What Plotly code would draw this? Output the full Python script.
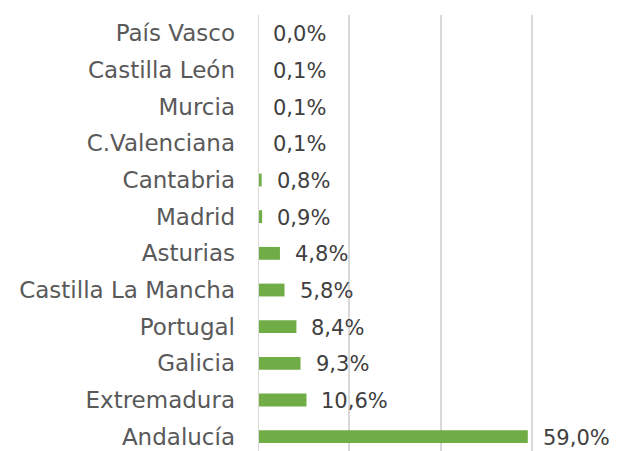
import plotly.graph_objects as go

# Share by region, bottom to top
regions = ["Andalucía", "Extremadura", "Galicia", "Portugal", "Castilla La Mancha",
           "Asturias", "Madrid", "Cantabria", "C.Valenciana", "Murcia",
           "Castilla León", "País Vasco"]
shares = [59.0, 10.6, 9.3, 8.4, 5.8, 4.8, 0.9, 0.8, 0.1, 0.1, 0.1, 0.0]
labels = [f"{v:.1f}%".replace(".", ",") for v in shares]

FONT = "DejaVu Sans"

fig = go.Figure(go.Bar(
    x=shares, y=regions, orientation="h",
    marker=dict(color="#70AD47", line=dict(width=0)),
    width=0.35,
))

for r, v, t in zip(regions, shares, labels):
    fig.add_annotation(x=v, y=r, text=t, showarrow=False, xanchor="left",
                       xshift=13, yshift=-1,
                       font=dict(family=FONT, size=21, color="#404040"))

# baseline drawn over the bars
fig.add_shape(type="line", xref="x", yref="paper", x0=0, x1=0, y0=0, y1=1,
              line=dict(color="#d9d9d9", width=2), layer="above")

fig.update_layout(
    width=622, height=451,
    margin=dict(l=258, r=0, t=15, b=0),
    paper_bgcolor="white", plot_bgcolor="white",
    showlegend=False,
    xaxis=dict(range=[0, 79.6], dtick=20, showticklabels=False,
               showgrid=True, gridcolor="#d9d9d9", gridwidth=2,
               zeroline=False),
    yaxis=dict(type="category", categoryorder="array", categoryarray=regions,
               range=[-0.39, 11.5], showgrid=False, ticks="",
               ticklabelstandoff=22,
               tickfont=dict(family=FONT, size=23, color="#595959")),
)

fig.write_html("out.html")
